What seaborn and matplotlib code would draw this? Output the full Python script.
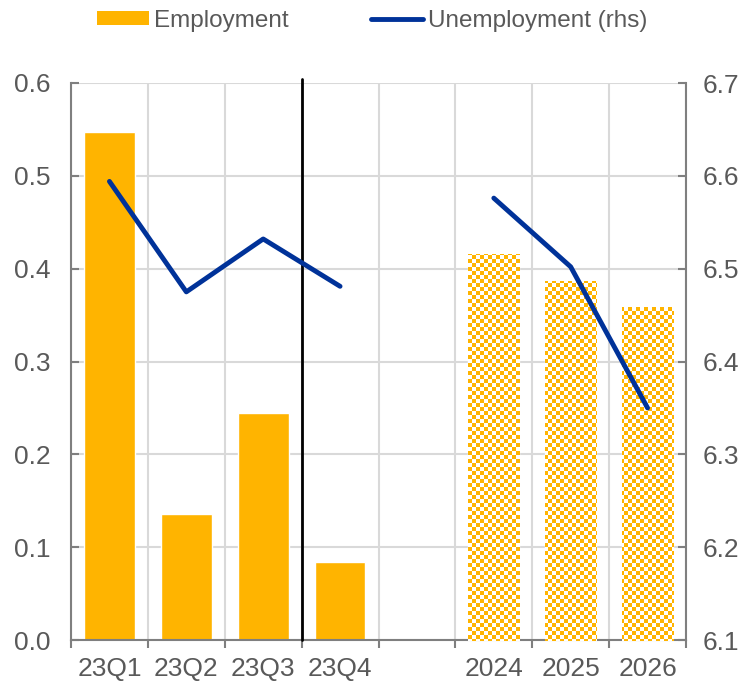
import numpy as np
import pandas as pd
import matplotlib
matplotlib.use("Agg")
import matplotlib.pyplot as plt
from matplotlib.patches import Patch
from matplotlib.lines import Line2D
import seaborn as sns

# Data
periods = ["23Q1", "23Q2", "23Q3", "23Q4", "", "2024", "2025", "2026"]
employment = [0.547, 0.136, 0.244, 0.084, np.nan, 0.416, 0.387, 0.359]
unemployment = [6.594, 6.475, 6.532, 6.481, np.nan, 6.576, 6.502, 6.350]
projection = [False, False, False, False, False, True, True, True]
segment = [1, 1, 1, 1, 0, 2, 2, 2]
left_ticks = [0.0, 0.1, 0.2, 0.3, 0.4, 0.5, 0.6]
right_ticks = [6.1, 6.2, 6.3, 6.4, 6.5, 6.6, 6.7]

ORANGE = "#FFB400"
BLUE = "#003299"
GRID = "#D9D9D9"
TEXT = "#595959"
SPINE = "#7F7F7F"
FS = 19

sns.set_theme(style="white")
plt.rcParams["font.family"] = ["Liberation Sans", "DejaVu Sans"]

df = pd.DataFrame({
    "period": periods,
    "employment": employment,
    "unemployment": unemployment,
    "projection": projection,
    "segment": segment,
    "pos": np.arange(len(periods)),
})

W, H = 749, 683
fig = plt.figure(figsize=(W / 100, H / 100), dpi=100)
ax = fig.add_axes([71 / W, 1 - 640 / H, (686 - 71) / W, (640 - 83) / H])
ax.set_zorder(0)

sns.barplot(data=df, x="pos", y="employment", order=list(df["pos"]),
            color=ORANGE, saturation=1, width=0.66, ax=ax, zorder=2)

# Checkerboard texture (pixel aligned) for the projection bars
cell = 4
yy, xx = np.mgrid[0:H, 0:W]
mask = ((xx // cell) + (yy // cell)) % 2 == 0
tex = np.ones((H, W, 4))
tex[mask, :3] = matplotlib.colors.to_rgb(ORANGE)

proj_pos = set(df.loc[df["projection"], "pos"])
for p in list(ax.patches):
    cx = p.get_x() + p.get_width() / 2
    if int(round(cx)) in proj_pos and np.isfinite(p.get_height()):
        p.set_facecolor("white")
        im = fig.figimage(tex, xo=0, yo=0, origin="lower", zorder=1)
        im.set_clip_path(p)

ax.set_xlim(-0.5, len(periods) - 0.5)
ax.set_ylim(0, 0.6)
ax.set_yticks(left_ticks)
ax.set_yticklabels([f"{v:.1f}" for v in left_ticks])
ax.set_xticks(df["pos"])
ax.set_xticklabels(periods)
ax.set_xticks(np.arange(-0.5, len(periods), 1.0), minor=True)
ax.set_xlabel("")
ax.set_ylabel("")

ax.grid(False)
ax.yaxis.grid(True, color=GRID, lw=1.5, zorder=0)
ax.xaxis.grid(True, which="minor", color=GRID, lw=1.5, zorder=0)
ax.set_axisbelow(True)

ax.tick_params(axis="x", which="major", length=0, pad=12, labelsize=FS, labelcolor=TEXT)
ax.tick_params(axis="x", which="minor", direction="out", length=6, width=1.5, color=SPINE, bottom=True)
ax.tick_params(axis="y", direction="in", length=6, width=1.5, color=SPINE, labelsize=FS,
               labelcolor=TEXT, pad=15, left=True)

for side in ["top", "right"]:
    ax.spines[side].set_visible(False)
for side in ["left", "bottom"]:
    ax.spines[side].set_color(SPINE)
    ax.spines[side].set_linewidth(1.5)

# Separator between outturns and quarter in progress
ax.axvline(2.5, ymin=0, ymax=1.008, color="black", lw=2, clip_on=False, zorder=4)

# Unemployment on the right axis
ax2 = ax.twinx()
ax2.set_zorder(2)
ax2.patch.set_visible(False)
line_df = df.dropna(subset=["unemployment"])
sns.lineplot(data=line_df, x="pos", y="unemployment", units="segment", estimator=None,
             color=BLUE, lw=3.5, ax=ax2, zorder=5, legend=False)
ax2.set_xlim(-0.5, len(periods) - 0.5)
ax2.set_ylim(6.1, 6.7)
ax2.set_yticks(right_ticks)
ax2.set_yticklabels([f"{v:.1f}" for v in right_ticks])
ax2.set_ylabel("")
ax2.set_xlabel("")
ax2.grid(False)
ax2.tick_params(axis="y", direction="in", length=6, width=1.5, color=SPINE, labelsize=FS,
                labelcolor=TEXT, pad=12, right=True)
for side in ["top", "left", "bottom"]:
    ax2.spines[side].set_visible(False)
ax2.spines["right"].set_color(SPINE)
ax2.spines["right"].set_linewidth(1.5)

handles = [Patch(facecolor=ORANGE, edgecolor="none", label="Employment"),
           Line2D([0], [0], color=BLUE, lw=3.5, solid_capstyle="round", label="Unemployment (rhs)")]
leg = fig.legend(handles=handles, loc="upper center", bbox_to_anchor=(0.497, 1.018), ncol=2,
                 frameon=False, fontsize=17.5, handlelength=2.15, handleheight=0.5,
                 handletextpad=0.2, columnspacing=3.4, labelcolor=TEXT)
leg.set_zorder(3)

fig.savefig("out.png", dpi=100)
